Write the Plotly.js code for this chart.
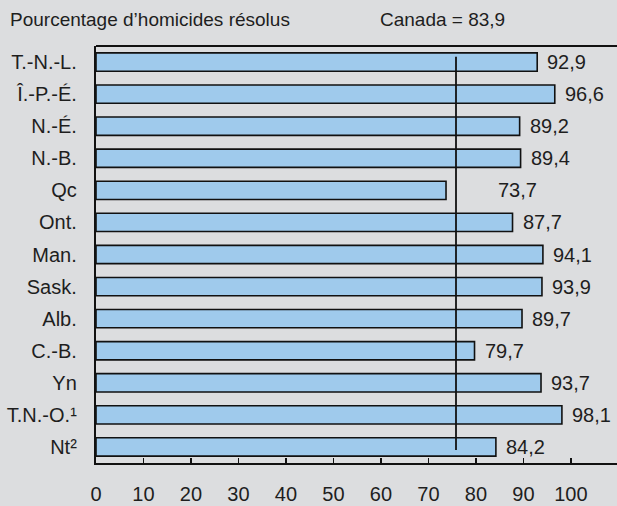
<!DOCTYPE html>
<html>
<head>
<meta charset="utf-8">
<script src="https://cdn.plot.ly/plotly-3.0.1.min.js"></script>
<style>
  html, body { margin: 0; padding: 0; background: #dcdddf; }
  #chart { width: 617px; height: 506px; }
</style>
</head>
<body>
<div id="chart"></div>
<script>
// ---- data ----
const provinces = ["T.-N.-L.", "Î.-P.-É.", "N.-É.", "N.-B.", "Qc", "Ont.", "Man.", "Sask.", "Alb.", "C.-B.", "Yn", "T.N.-O.¹", "Nt²"];
const solvedPct = [92.9, 96.6, 89.2, 89.4, 73.7, 87.7, 94.1, 93.9, 89.7, 79.7, 93.7, 98.1, 84.2];
const valueLabels = ["92,9", "96,6", "89,2", "89,4", "73,7", "87,7", "94,1", "93,9", "89,7", "79,7", "93,7", "98,1", "84,2"];
const xTickValues = [0, 10, 20, 30, 40, 50, 60, 70, 80, 90, 100];
const xTickLabels = ["0", "10", "20", "30", "40", "50", "60", "70", "80", "90", "100"];
const canadaLineX = [75.8];
const titleText = "Pourcentage d’homicides résolus";
const canadaText = "Canada = 83,9";

// ---- chart ----
const FONT = "'Liberation Sans', Arial, sans-serif";
const TXT = "#1e1e1e";
const FS = 20;
const FS_TITLE = 19;

const trace = {
  type: "bar",
  orientation: "h",
  y: provinces,
  x: solvedPct,
  marker: { color: "#9fcaec", line: { color: "#111", width: 1.6 } },
  hoverinfo: "skip"
};

const valueAnnotations = provinces.map((p, i) => {
  const v = solvedPct[i];
  const below = v < canadaLineX[0];
  return {
    x: below ? canadaLineX[0] : v, y: p, xref: "x", yref: "y",
    text: valueLabels[i], showarrow: false,
    xanchor: "left", yanchor: "middle", xshift: below ? 40 : 8,
    font: { family: FONT, size: FS, color: TXT }
  };
});

const layout = {
  width: 617, height: 506,
  margin: { l: 96, r: 0, t: 46, b: 43, pad: 0 },
  paper_bgcolor: "#dcdddf",
  plot_bgcolor: "#dcdddf",
  showlegend: false,
  bargap: 0.43,
  font: { family: FONT, size: FS, color: TXT },
  xaxis: {
    range: [0, 109.7],
    tickvals: xTickValues, ticktext: xTickLabels,
    ticks: "inside", ticklen: 5, tickwidth: 1.6, tickcolor: "#111",
    showline: true, linecolor: "#111", linewidth: 2,
    showgrid: false, zeroline: false,
    ticklabelstandoff: 12,
    tickfont: { family: FONT, size: FS, color: TXT },
    fixedrange: true
  },
  yaxis: {
    autorange: "reversed",
    showline: true, linecolor: "#111", linewidth: 2.2,
    ticks: "", showgrid: false, zeroline: false,
    ticklabelstandoff: 13,
    tickfont: { family: FONT, size: FS, color: TXT },
    fixedrange: true
  },
  shapes: [
    { type: "line", xref: "paper", yref: "paper", x0: 0, x1: 1, y0: 1, y1: 1,
      line: { color: "#111", width: 2 } },
    { type: "line", xref: "x", yref: "paper", x0: canadaLineX[0], x1: canadaLineX[0], y0: 0.031, y1: 0.974,
      line: { color: "#111", width: 1.8 } }
  ],
  annotations: valueAnnotations.concat([
    { xref: "paper", yref: "paper", x: -88 / 521, y: (463 - 20) / 417, xanchor: "left", yanchor: "middle",
      text: titleText, showarrow: false, font: { family: FONT, size: FS_TITLE, color: TXT } },
    { xref: "paper", yref: "paper", x: (378 - 96) / 521, y: (463 - 20) / 417, xanchor: "left", yanchor: "middle",
      text: canadaText, showarrow: false, font: { family: FONT, size: FS_TITLE, color: TXT } }
  ])
};

Plotly.newPlot("chart", [trace], layout, { staticPlot: true, displayModeBar: false });
</script>
</body>
</html>
